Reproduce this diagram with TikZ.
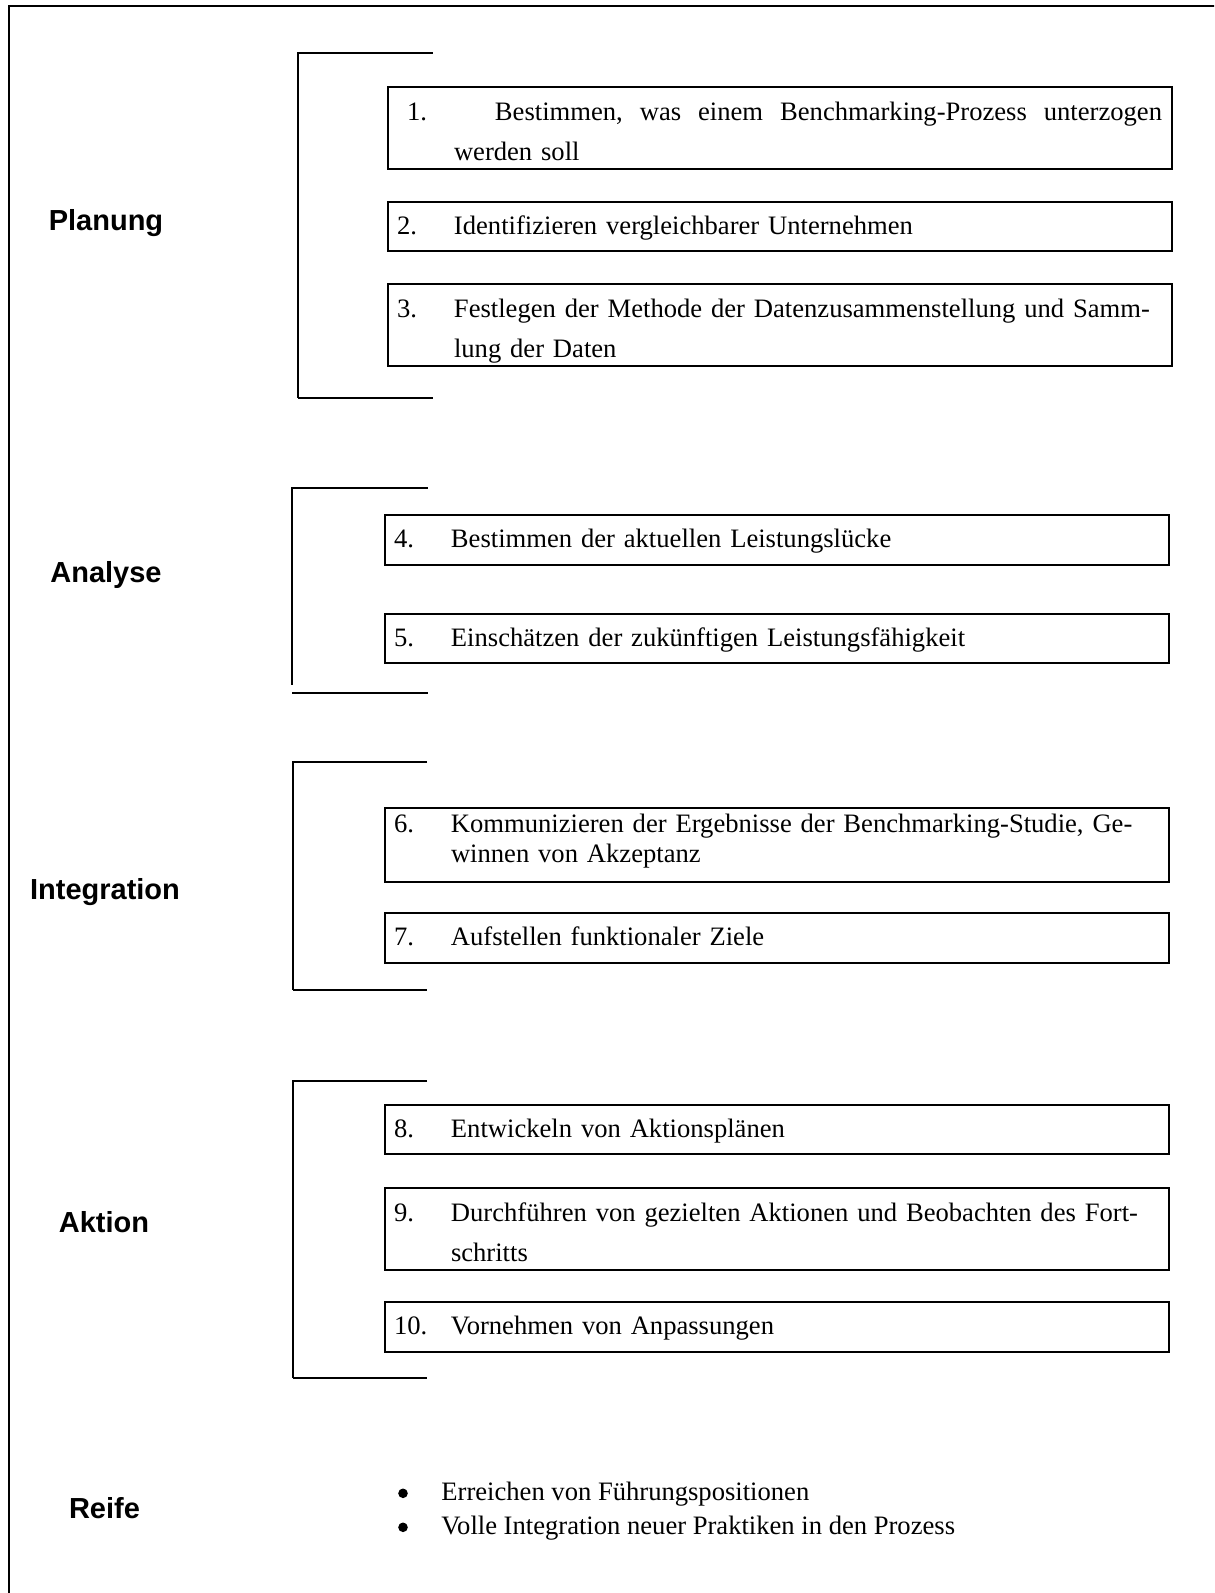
\documentclass[tikz,border=0pt]{standalone}
\usepackage{fontspec}
\setmainfont{Liberation Serif}
\newfontfamily\phasefont{Liberation Sans}

\newcommand{\stepnr}[1]{\makebox[28.5pt][l]{#1}}
\newcommand{\hiStrut}[1]{\rule{0pt}{#1}}
\newcommand{\loStrut}[1]{\rule[-#1]{0pt}{#1}}

\tikzset{
  frameline/.style={line width=1pt},
  phase/.style={font=\phasefont\bfseries\fontsize{14.5}{17}\selectfont, anchor=base, inner sep=0pt},
  stepbox/.style={draw, frameline, anchor=north west, text width=383pt, inner xsep=4.5pt,
    inner ysep=0pt, align=left, font=\fontsize{13.3}{20}\selectfont},
  oneline/.style={minimum height=24.75pt},
  twoline/.style={minimum height=41pt},
  bulletline/.style={anchor=base west, inner sep=0pt, font=\fontsize{13.3}{17}\selectfont},
}

\begin{document}
\begin{tikzpicture}[x=0.5pt,y=-0.5pt]
  \useasboundingbox (0,0) rectangle (1214,1593);
  \clip (0,0) rectangle (1214,1593);

  % outer frame, cut off at the right and at the bottom
  \draw[frameline] (8.5,6.5) rectangle (1260,1640);

  % the phases
  \node[phase] (planung)     at (106,231)    {Planung};
  \node[phase] (analyse)     at (106,582)    {Analyse};
  \node[phase] (integration) at (105,899)    {Integration};
  \node[phase] (aktion)      at (104,1232)   {Aktion};
  \node[phase] (reife)       at (104.5,1518) {Reife};

  % brackets round the steps of each phase
  \foreach \xl/\yt/\yv/\yb/\xr in {
      298/53/398/398/432.5,
      292.3/487.7/685/693.3/427.7,
      292.6/762/990/990/427,
      292.6/1080.7/1378/1378/427}
    \draw[frameline] (\xr,\yt) -| (\xl,\yv) (\xl,\yb) -- (\xr,\yb);

  % steps with one line
  \foreach \n/\x/\y/\txt in {
      2/387/201/Identifizieren vergleichbarer Unternehmen,
      4/384/514/Bestimmen der aktuellen Leistungslücke,
      5/384/612.7/Einschätzen der zukünftigen Leistungsfähigkeit,
      7/384/912/Aufstellen funktionaler Ziele,
      8/384/1103.5/Entwickeln von Aktionsplänen,
      10/384/1301/Vornehmen von Anpassungen}
    \node[stepbox, oneline] (s\n) at (\x,\y)
      {\hiStrut{14pt}\stepnr{\n.}\txt\loStrut{6pt}};

  % steps with two lines
  \node[stepbox, twoline] (s1) at (387,86.5)
    {\makebox[382.5pt][s]{\hiStrut{16.5pt}\hspace*{5pt}\makebox[44pt][l]{1.}Bestimmen,\hfill was\hfill einem\hfill Benchmarking-Prozess\hfill unterzogen}\\
     \stepnr{}werden soll\loStrut{4pt}};
  \node[stepbox, twoline] (s3) at (387,283.3)
    {\hiStrut{16.5pt}\stepnr{3.}Festlegen der Methode der Datenzusammenstellung und Samm-\\
     \stepnr{}lung der Daten\loStrut{4pt}};
  \node[stepbox, font=\fontsize{13.3}{15}\selectfont, minimum height=36.65pt] (s6) at (384,806.7)
    {\hiStrut{12.5pt}\stepnr{6.}Kommunizieren der Ergebnisse der Benchmarking-Studie, Ge-\\
     \stepnr{}winnen von Akzeptanz\loStrut{9.5pt}};
  \node[stepbox, twoline] (s9) at (384,1187)
    {\hiStrut{16.5pt}\stepnr{9.}Durchführen von gezielten Aktionen und Beobachten des Fort-\\
     \stepnr{}schritts\loStrut{4pt}};

  % outcome of the last phase
  \node[bulletline] (reife1) at (441,1500) {Erreichen von Führungspositionen};
  \node[bulletline] (reife2) at (441,1534) {Volle Integration neuer Praktiken in den Prozess};
  \foreach \r in {reife1,reife2}
    \fill ([shift={(-38,-6.7)}]\r.base west) circle (2.4pt);
\end{tikzpicture}
\end{document}
